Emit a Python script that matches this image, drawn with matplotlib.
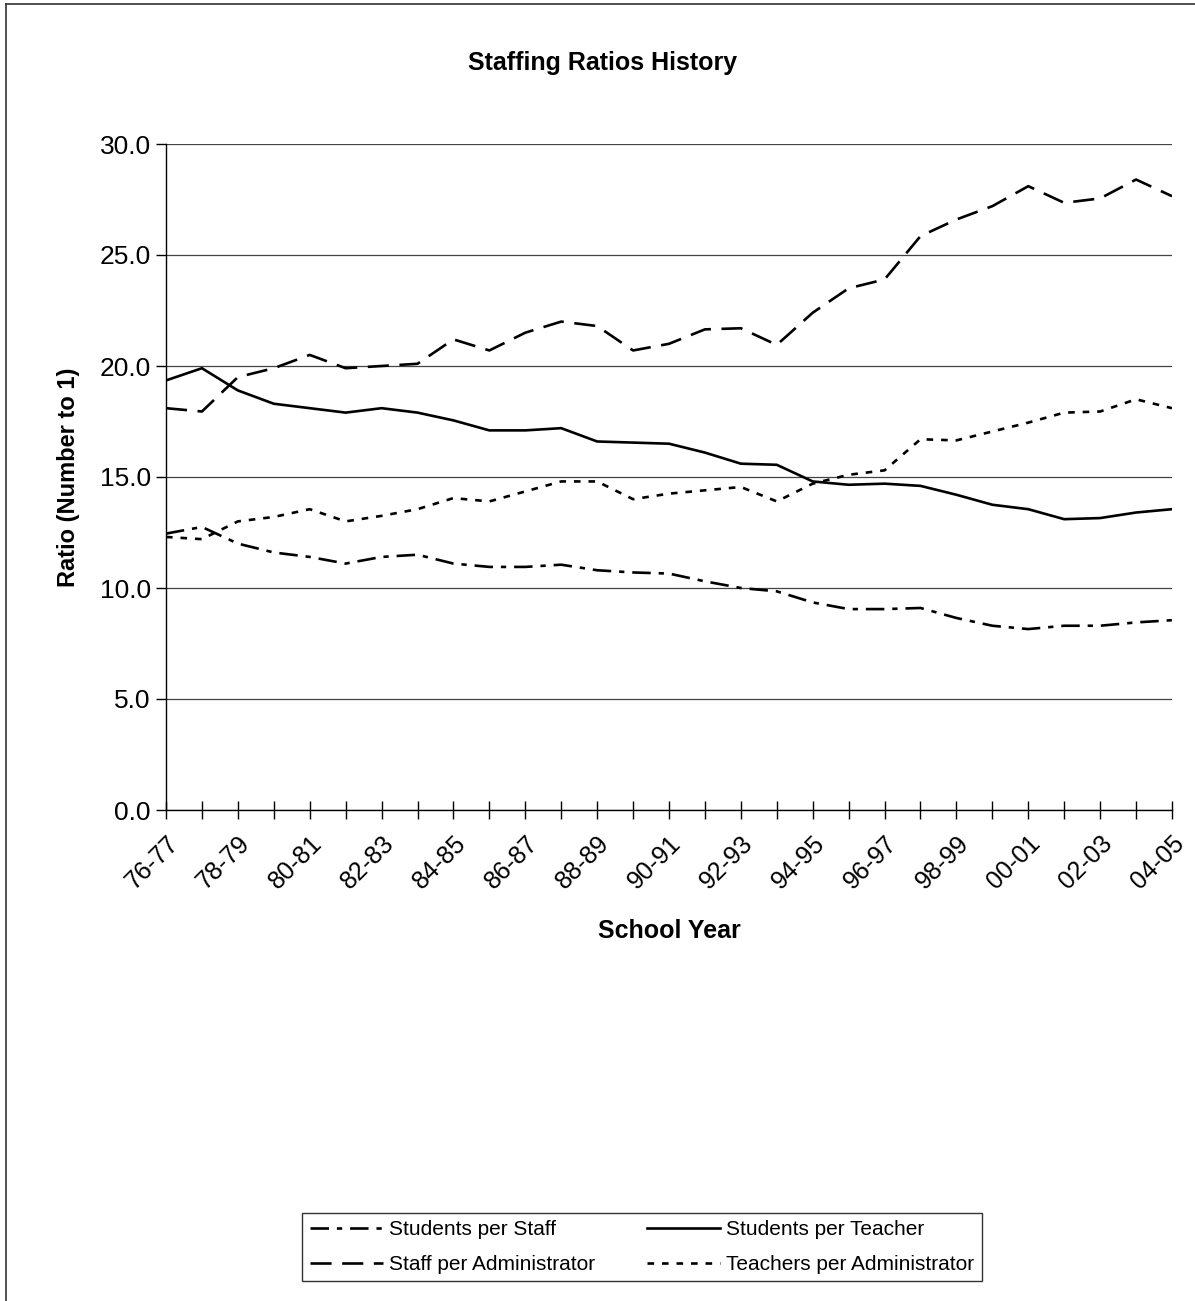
import matplotlib
matplotlib.use("Agg")
import matplotlib.pyplot as plt
from matplotlib.lines import Line2D

plt.rcParams['font.family'] = ['Liberation Sans', 'DejaVu Sans']

years = ['76-77', '77-78', '78-79', '79-80', '80-81', '81-82', '82-83', '83-84',
         '84-85', '85-86', '86-87', '87-88', '88-89', '89-90', '90-91', '91-92',
         '92-93', '93-94', '94-95', '95-96', '96-97', '97-98', '98-99', '99-00',
         '00-01', '01-02', '02-03', '03-04', '04-05']

students_per_staff = [12.45, 12.75, 12.0, 11.6, 11.4, 11.1, 11.4, 11.5, 11.1, 10.95,
                      10.95, 11.05, 10.8, 10.7, 10.65, 10.3, 10.0, 9.85, 9.35, 9.05,
                      9.05, 9.1, 8.65, 8.3, 8.15, 8.3, 8.3, 8.45, 8.55]
students_per_teacher = [19.35, 19.9, 18.9, 18.3, 18.1, 17.9, 18.1, 17.9, 17.55, 17.1,
                        17.1, 17.2, 16.6, 16.55, 16.5, 16.1, 15.6, 15.55, 14.8, 14.65,
                        14.7, 14.6, 14.2, 13.75, 13.55, 13.1, 13.15, 13.4, 13.55]
staff_per_admin = [18.1, 17.95, 19.5, 19.9, 20.5, 19.9, 20.0, 20.1, 21.2, 20.7,
                   21.5, 22.0, 21.8, 20.7, 21.0, 21.65, 21.7, 20.95, 22.4, 23.5,
                   23.9, 25.85, 26.6, 27.2, 28.1, 27.35, 27.55, 28.4, 27.65]
teachers_per_admin = [12.3, 12.2, 13.0, 13.2, 13.55, 13.0, 13.25, 13.55, 14.05, 13.9,
                      14.35, 14.8, 14.8, 14.0, 14.25, 14.4, 14.55, 13.9, 14.7, 15.1,
                      15.3, 16.7, 16.65, 17.05, 17.45, 17.9, 17.95, 18.5, 18.1]

fig = plt.figure(figsize=(11.95, 13.01), dpi=100)
ax = fig.add_axes([166 / 1195, 1 - 810 / 1301, 1006 / 1195, 666 / 1301])

x = list(range(len(years)))
lw = 1.9
l1, = ax.plot(x, students_per_staff, color='black', lw=lw,
              linestyle=(0, (7, 3, 2, 3)), label='Students per Staff')
l2, = ax.plot(x, students_per_teacher, color='black', lw=lw,
              linestyle='-', label='Students per Teacher')
l3, = ax.plot(x, staff_per_admin, color='black', lw=lw,
              linestyle=(0, (8, 4)), label='Staff per Administrator')
l4, = ax.plot(x, teachers_per_admin, color='black', lw=lw,
              linestyle=(0, (2.5, 3)), label='Teachers per Administrator')

ax.set_xlim(0, len(years) - 1)
ax.set_ylim(0, 30)
ax.set_yticks([0, 5, 10, 15, 20, 25, 30])
ax.set_yticklabels([f'{v:.1f}' for v in [0, 5, 10, 15, 20, 25, 30]], fontsize=19)
ax.set_xticks(x[::2])
ax.set_xticklabels(years[::2], rotation=45, ha='right', rotation_mode='anchor',
                   fontsize=18)
ax.set_xticks(x, minor=True)
ax.tick_params(axis='x', which='both', direction='inout', length=13, width=1, pad=9)
ax.tick_params(axis='y', direction='out', length=7, width=1, pad=4)
ax.grid(axis='y', color='#444444', lw=0.9)
ax.set_axisbelow(True)
for side in ['top', 'right']:
    ax.spines[side].set_visible(False)
ax.spines['left'].set_linewidth(1)
ax.spines['bottom'].set_linewidth(1)

ax.set_xlabel('School Year', fontsize=18, fontweight='bold', labelpad=18)
ax.set_ylabel('Ratio (Number to 1)', fontsize=17, fontweight='bold', labelpad=14)
fig.text(603 / 1195, 1 - 63 / 1301, 'Staffing Ratios History', fontsize=18,
         fontweight='bold', ha='center', va='center')

leg = fig.legend(handles=[l1, l3, l2, l4], ncol=2, loc='center',
                 bbox_to_anchor=(642 / 1195, 1 - 1247 / 1301), fontsize=15,
                 frameon=True, fancybox=False, edgecolor='black',
                 handlelength=3.5, handletextpad=0.3, columnspacing=2.5,
                 borderpad=0.35, labelspacing=0.75)
leg.get_frame().set_linewidth(1)

# outer border around the chart area
fig.add_artist(Line2D([6 / 1195, 1], [1 - 4 / 1301, 1 - 4 / 1301],
                      transform=fig.transFigure, color='#333333', lw=1.2))
fig.add_artist(Line2D([6.5 / 1195, 6.5 / 1195], [0, 1 - 4 / 1301],
                      transform=fig.transFigure, color='#333333', lw=1.2))

fig.savefig('out.png', dpi=100)
